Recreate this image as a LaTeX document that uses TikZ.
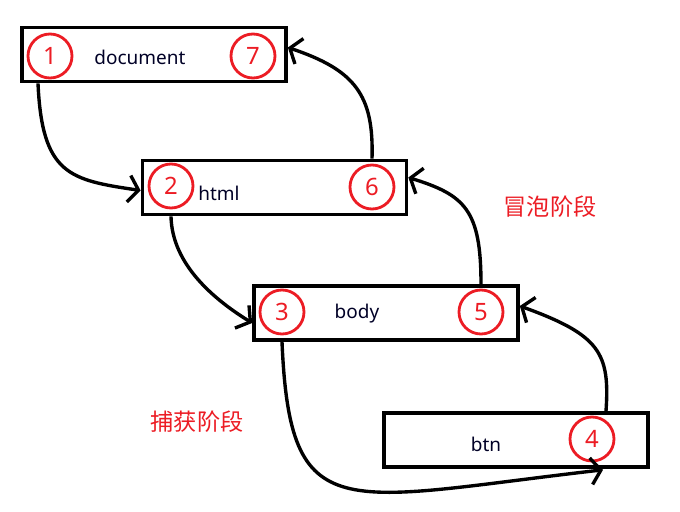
\documentclass[tikz,border=0pt]{standalone}
\usepackage{fontspec}
\setmainfont{Noto Sans}
\newfontfamily\cjk{Noto Sans CJK SC}
\usetikzlibrary{arrows.meta,calc}
\definecolor{paintred}{RGB}{236,28,36}
\begin{document}
\begin{tikzpicture}[x=0.025cm,y=-0.025cm]
        \tikzstyle{elem}=[draw,line width=2.6pt,minimum width=6.6cm,minimum height=1.35cm,inner sep=0pt];
        \tikzstyle{num}=[circle,draw=paintred,line width=2pt,text=paintred,minimum size=1.1cm,inner sep=0pt,font=\fontsize{17}{17}\selectfont];
        \tikzstyle{tag}=[text=black!85!blue,font=\fontsize{13.5}{14}\selectfont];
        \tikzstyle{phase}=[text=paintred,font=\cjk\fontsize{16.5}{17}\selectfont];
        \tikzstyle{flow}=[line width=2.4pt,-{Straight Barb[length=7pt,width=19pt,line width=2.4pt]}];

          \useasboundingbox (0,0) rectangle (680,512);

          \node[elem] (doc) at (154,54.5) {};
          \node[elem] (html) at (274.5,187.5) {};
          \node[elem] (body) at (386,313) {};
          \node[elem] (btn) at (516,440) {};

          \foreach \n/\x/\y in {1/50/56,2/171/186,3/282/312,4/592/439,5/481/312,6/372/187,7/253/56}{
            \node[num] (n\n) at (\x,\y) {\n};
          }

          \node[tag] (tdoc) at (140,57) {document};
          \node[tag] (thtml) at (219,193) {html};
          \node[tag] (tbody) at (357,314) {body};
          \node[tag] (tbtn) at (486,444) {btn};

          \node[phase] (bubble) at (550,207) {冒泡阶段};
          \node[phase] (capture) at (197,422) {捕获阶段};

          % capture
          \draw[flow] ($(n1|-doc.south)+(-12,0)$) .. controls (42,175) and (70,180) .. ($(html.west)+(0,3)$);
          \draw[flow] (n2|-html.south) .. controls (172,265) and (215,300) .. ($(body.west)+(0,10)$);
          \draw[flow] (n3|-body.south) .. controls (290,530) and (340,500) .. ($(n4|-btn.south)+(11,1)$);

          % bubble
          \draw[flow] ($(n4|-btn.north)+(14,0)$) .. controls (610,353) and (600,335) .. ($(body.east)+(0,-7)$);
          \draw[flow] (n5|-body.north) .. controls (481,210) and (465,195) .. ($(html.east)+(0,-10)$);
          \draw[flow] (n6|-html.north) .. controls (374,95) and (355,70) .. ($(doc.east)+(0,-7)$);
      \end{tikzpicture}
\end{document}
